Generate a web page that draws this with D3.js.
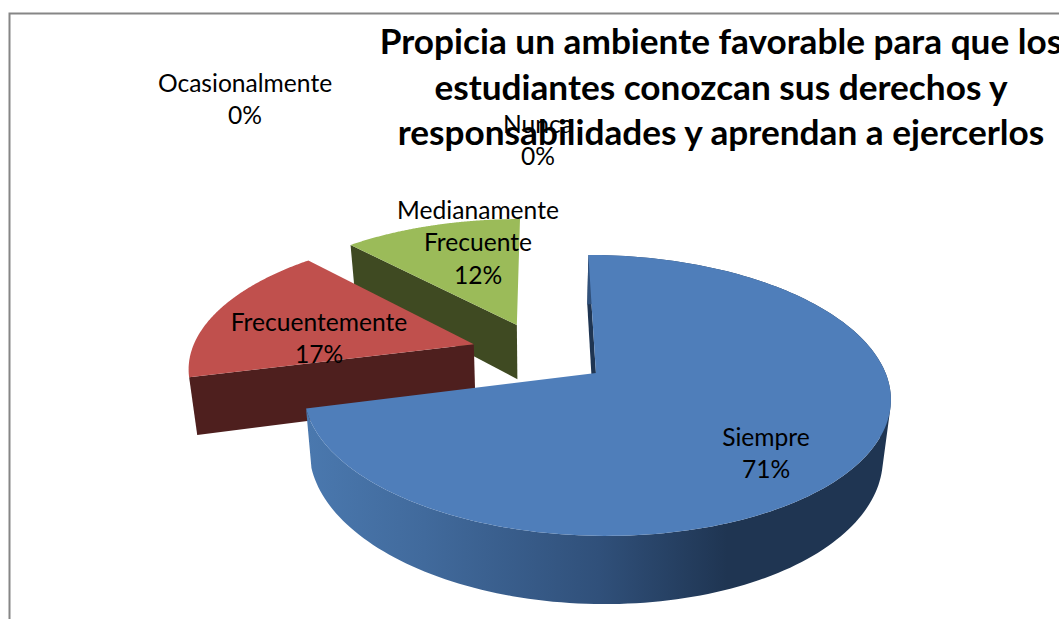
<!DOCTYPE html>
<html>
<head>
<meta charset="utf-8">
<script src="https://cdnjs.cloudflare.com/ajax/libs/d3/7.8.5/d3.min.js"></script>
<style>
html,body{margin:0;padding:0;background:#fff;overflow:hidden}
svg{display:block}
text{font-family:Lato,"Open Sans",sans-serif;fill:#000}
</style>
</head>
<body>
<svg id="chart" width="1059" height="619"></svg>
<script>
// --- data ---
const categories = ["Siempre", "Frecuentemente", "Medianamente Frecuente", "Ocasionalmente", "Nunca"];
const values = [71, 17, 12, 0, 0];
const titleLines = [
  "Propicia un ambiente favorable para que los",
  "estudiantes conozcan sus derechos y",
  "responsabilidades y aprendan a ejercerlos"
];

// --- styles and layout ---
const topColors = ["#4f7eba", "#c0504d", "#9bbb59", "#8064a2", "#4bacc6"];
const sideColors = ["#1f3552", "#4e1f1e", "#3f4a22", "#32283f", "#1c4450"];
const explode = [0.24, 0.25, 0.24, 0.24, 0.24];
const labelAnchor = {
  "Siempre": [766, 438, ["Siempre"]],
  "Frecuentemente": [319, 323, ["Frecuentemente"]],
  "Medianamente Frecuente": [478, 211, ["Medianamente", "Frecuente"]],
  "Ocasionalmente": [245, 84, ["Ocasionalmente"]],
  "Nunca": [538, 125, ["Nunca"]]
};
const view = {cx: 541, cy: 353.3, R: 283, a: 130.7, k: 0.156, depth: 56, shrink: 0.977};

const svg = d3.select("#chart");
const total = d3.sum(values);
const pct = d3.format(".0%");

// page background and chart frame
svg.append("rect").attr("width", 1059).attr("height", 619).attr("fill", "#fff");
svg.append("rect").attr("x", 9.5).attr("y", 13.5).attr("width", 1100).attr("height", 700)
  .attr("fill", "none").attr("stroke", "#868686").attr("stroke-width", 2);

const defs = svg.append("defs");
const grad = defs.append("linearGradient").attr("id", "blueSide")
  .attr("gradientUnits", "userSpaceOnUse").attr("x1", 308).attr("x2", 890).attr("y1", 0).attr("y2", 0);
[[0, "#4a78ae"], [0.2, "#416a9c"], [0.5, "#30507a"], [0.72, "#1f3552"], [1, "#1f3552"]]
  .forEach(([o, c]) => grad.append("stop").attr("offset", o).attr("stop-color", c));

// perspective projection of the pie plane (units of one radius)
function project(X, Z) {
  const w = 1 + view.k * Z;
  return {x: view.cx + view.R * X / w, y: view.cy - view.a * Z / w, w};
}
function lower(p) {
  return [view.cx + (p.x - view.cx) * view.shrink, p.y + view.depth / p.w];
}
const upper = p => [p.x, p.y];
const line = d3.line();

const arcs = d3.pie().value(d => d).sort(null)(values).map((d, i) => {
  const mid = (d.startAngle + d.endAngle) / 2;
  const ox = explode[i] * Math.sin(mid), oz = explode[i] * Math.cos(mid);
  const at = t => project(ox + Math.sin(t), oz + Math.cos(t));
  const apex = project(ox, oz);
  const steps = d3.range(0, 181).map(s => d.startAngle + (d.endAngle - d.startAngle) * s / 180);
  return {...d, i, at, apex, steps, rim: steps.map(at)};
});

// back slices first, the front one over them
const order = arcs.filter(d => d.value > 0).sort((p, q) => q.i - p.i);
const g = svg.append("g");
order.forEach(d => {
  // radial wall at the start edge
  const s0 = d.rim[0];
  g.append("path")
    .attr("d", line([upper(d.apex), upper(s0), lower(s0), lower(d.apex)]) + "Z")
    .attr("fill", sideColors[d.i]);
  // outer wall: only the front slice shows it. One path made of swept quads of the same
  // winding, so the silhouette is right and no seams appear between the steps.
  if (d.i === 0) {
    const quads = d.rim.slice(1).map((p, j) => {
      const q = [upper(d.rim[j]), upper(p), lower(p), lower(d.rim[j])];
      return d3.polygonArea(q) < 0 ? q.reverse() : q;
    });
    g.append("path")
      .attr("d", quads.map(q => line(q) + "Z").join(""))
      .attr("fill", "url(#blueSide)");
  }
  // top face
  g.append("path")
    .attr("d", line([upper(d.apex)].concat(d.rim.map(upper))) + "Z")
    .attr("fill", topColors[d.i]);
});

// title
svg.append("g").selectAll("text").data(titleLines).join("text")
  .attr("x", 721).attr("y", (d, i) => 54 + i * 45.6)
  .attr("text-anchor", "middle").attr("font-weight", 700).attr("font-size", 35.2)
  .text(d => d);

// data labels
categories.forEach((c, i) => {
  const [x, y, lines] = labelAnchor[c];
  const rows = lines.concat(pct(values[i] / total));
  svg.append("g").selectAll("text").data(rows).join("text")
    .attr("x", x).attr("y", (d, j) => y + 8 + j * 32.4)
    .attr("text-anchor", "middle").attr("font-size", 24.6)
    .text(d => d);
});
</script>
</body>
</html>
